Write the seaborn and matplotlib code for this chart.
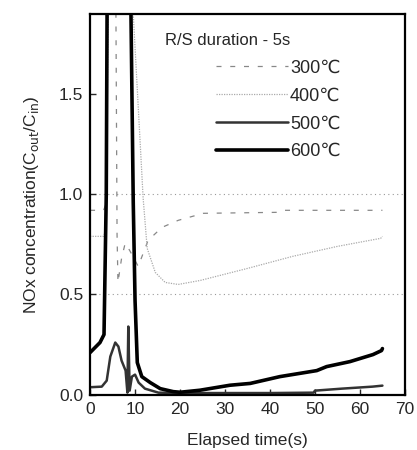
import matplotlib
matplotlib.use("Agg")
import matplotlib.pyplot as plt
import seaborn as sns
import pandas as pd

# Data (values above 1.9 run off the top of the plot)
t300 = [0, 3.0, 3.5, 4.2, 5.5, 6.0, 6.2, 7.0, 7.8, 8.8, 10.0, 10.7, 12.9, 16.0, 19.6, 25.2, 42.0, 43.0, 65.0]
v300 = [0.92, 0.92, 0.95, 3.0, 3.0, 0.80, 0.56, 0.68, 0.755, 0.72, 0.67, 0.64, 0.77, 0.835, 0.87, 0.905, 0.91, 0.92, 0.92]

t400 = [0, 3.0, 3.5, 4.6, 9.0, 9.6, 11.8, 12.7, 14.5, 16.7, 19.6, 24.5, 35.0, 45.0, 55.0, 64.6, 65.0]
v400 = [0.79, 0.79, 0.82, 3.0, 3.0, 1.90, 0.98, 0.73, 0.61, 0.56, 0.55, 0.57, 0.63, 0.69, 0.74, 0.78, 0.79]

t500 = [0, 2.6, 3.7, 4.5, 5.6, 6.3, 7.0, 7.9, 8.3, 8.5, 8.8, 9.3, 10.0, 10.8, 12.2, 15.2, 20.0, 30.0, 40.0, 49.7, 50.0, 56.0, 62.8, 65.0]
v500 = [0.037, 0.04, 0.07, 0.19, 0.26, 0.24, 0.17, 0.12, 0.01, 0.34, 0.02, 0.09, 0.10, 0.06, 0.03, 0.01, 0.008, 0.008, 0.008, 0.01, 0.02, 0.03, 0.04, 0.045]

t600 = [0, 2.2, 3.1, 3.6, 4.0, 8.5, 9.6, 10.0, 10.5, 11.5, 13.4, 15.6, 18.5, 20.0, 24.4, 31.1, 35.6, 42.2, 50.4, 52.6, 57.8, 62.9, 64.8, 65.0]
v600 = [0.21, 0.26, 0.30, 1.0, 3.0, 3.0, 0.96, 0.47, 0.16, 0.09, 0.06, 0.03, 0.015, 0.012, 0.022, 0.047, 0.056, 0.09, 0.12, 0.14, 0.165, 0.20, 0.22, 0.23]

labels = ["300\u2103", "400\u2103", "500\u2103", "600\u2103"]

sns.set_style("ticks")
plt.rcParams["font.family"] = ["Liberation Sans", "DejaVu Sans"]

fig = plt.figure(figsize=(4.17, 4.5), dpi=100)
ax = fig.add_axes([0.216, 0.123, 0.755, 0.846])

# dotted reference lines
ax.axhline(1.0, color="#999999", lw=0.8, ls=(0, (1, 3)), zorder=0)
ax.axhline(0.5, color="#999999", lw=0.8, ls=(0, (1, 3)), zorder=0)

series = [
    (t300, v300, dict(color="#888888", lw=0.9, ls=(0, (4, 7)))),
    (t400, v400, dict(color="#aaaaaa", lw=0.9, ls=(0, (1, 1)))),
    (t500, v500, dict(color="#333333", lw=1.8, ls="-")),
    (t600, v600, dict(color="black", lw=2.6, ls="-")),
]
for (t, v, style), lab in zip(series, labels):
    df = pd.DataFrame({"t": t, "v": v})
    sns.lineplot(data=df, x="t", y="v", ax=ax, estimator=None, sort=False,
                 label=lab, **style)

ax.set_xlim(0, 70)
ax.set_ylim(0, 1.9)
ax.set_xticks(range(0, 71, 10))
ax.set_yticks([0.0, 0.5, 1.0, 1.5])
ax.set_yticklabels(["0.0", "0.5", "1.0", "1.5"])
ax.tick_params(direction="in", labelsize=12.5, length=4, width=1, pad=5)
for s in ax.spines.values():
    s.set_linewidth(1.6)
    s.set_color("black")

ax.set_xlabel("Elapsed time(s)", fontsize=12.5, labelpad=12)
ax.set_ylabel("NOx concentration(C$_{\\mathrm{out}}$/C$_{\\mathrm{in}}$)", fontsize=12.5, labelpad=13)

ax.text(0.238, 0.93, "R/S duration - 5s", transform=ax.transAxes,
        ha="left", va="center", fontsize=12)
ax.legend(loc="upper left", bbox_to_anchor=(0.40, 0.88), frameon=False,
          fontsize=13, handlelength=4.0, handletextpad=0.1,
          labelspacing=0.6, borderpad=0, borderaxespad=0)

fig.savefig("out.png", dpi=100)
